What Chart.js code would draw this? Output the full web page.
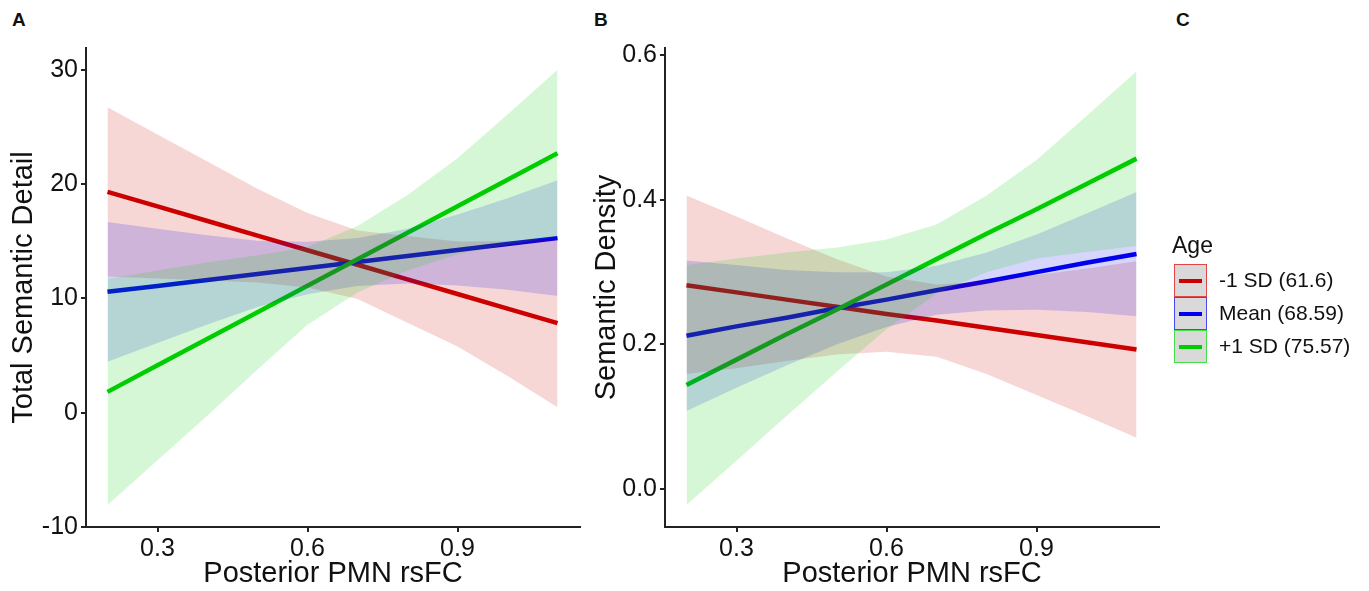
<!DOCTYPE html>
<html>
<head>
<meta charset="utf-8">
<script src="https://cdn.jsdelivr.net/npm/chart.js@4.4.1/dist/chart.umd.min.js"></script>
<style>
  html, body { margin: 0; padding: 0; background: #fff; }
  body { width: 1369px; height: 591px; position: relative; overflow: hidden;
         font-family: "Liberation Sans", Arial, sans-serif; color: #111; }
  canvas { position: absolute; top: 0; }
  .tag { position: absolute; top: 10px; font-weight: bold; font-size: 19px; line-height: 19px; }
  .legend { position: absolute; left: 1172px; top: 232px; }
  .legend .title { font-size: 23px; line-height: 26px; margin-bottom: 6px; }
  .key { position: relative; height: 33px; }
  .key .box { position: absolute; left: 2px; top: 0; width: 31px; height: 31px; background: #d9d9d9; border: 1px solid; }
  .key .stroke { position: absolute; left: 4px; right: 4px; top: 14px; height: 4px; }
  .key .lab { position: absolute; left: 47px; top: 4px; font-size: 21px; line-height: 24px; white-space: nowrap; }
</style>
</head>
<body>
<div class="tag" style="left:12px">A</div>
<div class="tag" style="left:594px">B</div>
<div class="tag" style="left:1176px">C</div>
<canvas id="chartA" width="600" height="591" style="left:0px"></canvas>
<canvas id="chartB" width="600" height="591" style="left:590px"></canvas>
<div class="legend" id="legend"></div>

<script>
// x positions where the fitted lines and their bands were read
const xGrid = [0.2, 0.3, 0.4, 0.5, 0.6, 0.7, 0.8, 0.9, 1.0, 1.1];
const xTicks = [0.3, 0.6, 0.9];

const groups = ['-1 SD (61.6)', 'Mean (68.59)', '+1 SD (75.57)'];
const lineColors = ['#cd0000', '#0000ee', '#00cd00'];
const bandColors = ['rgba(205,0,0,0.16)', 'rgba(0,0,238,0.16)', 'rgba(0,205,0,0.16)'];
const keyBorders = ['#e04848', '#4848f0', '#48dc48'];

// Panel A - Total Semantic Detail
const aTicks = [-10, 0, 10, 20, 30];
const aRedFit   = [19.32, 18.04, 16.77, 15.49, 14.21, 12.94, 11.66, 10.38, 9.10, 7.83];
const aRedLow   = [11.92, 11.74, 11.57, 11.39, 10.96, 9.94, 7.86, 5.78, 3.20, 0.48];
const aRedHigh  = [26.72, 24.34, 21.97, 19.59, 17.46, 15.94, 15.46, 14.98, 15.00, 15.18];
const aBlueFit  = [10.57, 11.09, 11.61, 12.14, 12.66, 13.18, 13.70, 14.23, 14.75, 15.27];
const aBlueLow  = [4.45, 6.09, 7.71, 9.24, 10.36, 11.08, 11.30, 11.13, 10.75, 10.20];
const aBlueHigh = [16.69, 16.09, 15.51, 15.04, 14.96, 15.28, 16.10, 17.33, 18.75, 20.34];
const aGreenFit  = [1.82, 4.14, 6.46, 8.78, 11.10, 13.42, 15.74, 18.06, 20.38, 22.70];
const aGreenLow  = [-8.08, -4.16, -0.24, 3.78, 7.70, 10.52, 12.44, 13.86, 14.68, 15.40];
const aGreenHigh = [11.72, 12.44, 13.16, 13.78, 14.50, 16.32, 19.04, 22.26, 26.08, 30.00];

// Panel B - Semantic Density
const bTicks = [0.0, 0.2, 0.4, 0.6];
const bRedFit   = [0.282, 0.272, 0.262, 0.252, 0.242, 0.233, 0.223, 0.213, 0.203, 0.193];
const bRedLow   = [0.159, 0.167, 0.177, 0.186, 0.190, 0.183, 0.159, 0.130, 0.101, 0.071];
const bRedHigh  = [0.406, 0.377, 0.347, 0.318, 0.294, 0.283, 0.287, 0.296, 0.305, 0.315];
const bBlueFit  = [0.212, 0.225, 0.237, 0.250, 0.262, 0.275, 0.287, 0.300, 0.313, 0.325];
const bBlueLow  = [0.108, 0.140, 0.171, 0.200, 0.224, 0.241, 0.247, 0.248, 0.245, 0.239];
const bBlueHigh = [0.316, 0.310, 0.303, 0.300, 0.300, 0.309, 0.327, 0.352, 0.381, 0.411];
const bGreenFit  = [0.144, 0.179, 0.214, 0.248, 0.283, 0.318, 0.353, 0.387, 0.422, 0.457];
const bGreenLow  = [-0.022, 0.039, 0.101, 0.162, 0.221, 0.270, 0.300, 0.319, 0.328, 0.336];
const bGreenHigh = [0.310, 0.319, 0.327, 0.334, 0.345, 0.366, 0.406, 0.455, 0.516, 0.578];

const FONT = '"Liberation Sans", Arial, sans-serif';
const INK = '#111';

function pts(ys) {
  return xGrid.map((x, i) => ({ x: x, y: ys[i] }));
}

function buildDatasets(fits, lows, highs) {
  const ds = [];
  // ribbons are drawn over the lines, as in the original
  for (let g = 0; g < 3; g++) {
    ds.push({
      label: groups[g] + ' hi', data: pts(highs[g]), fill: '+1',
      backgroundColor: bandColors[g], borderColor: 'rgba(0,0,0,0)', borderWidth: 0,
      pointRadius: 0, order: 3 - g
    });
    ds.push({
      label: groups[g] + ' lo', data: pts(lows[g]), fill: false,
      borderColor: 'rgba(0,0,0,0)', borderWidth: 0, pointRadius: 0, order: 3 - g
    });
  }
  for (let g = 0; g < 3; g++) {
    ds.push({
      label: groups[g], data: pts(fits[g]), fill: false,
      borderColor: lineColors[g], borderWidth: 4.5, pointRadius: 0,
      borderCapStyle: 'butt', order: 6 - g
    });
  }
  return ds;
}

function makePanel(id, fits, lows, highs, cfg) {
  const ctx = document.getElementById(id).getContext('2d');
  return new Chart(ctx, {
    type: 'line',
    data: { datasets: buildDatasets(fits, lows, highs) },
    options: {
      responsive: false,
      animation: false,
      devicePixelRatio: 1,
      layout: { padding: { left: 0, right: cfg.padRight, top: 48, bottom: 0 } },
      plugins: { legend: { display: false }, tooltip: { enabled: false } },
      scales: {
        x: {
          type: 'linear', min: 0.157, max: 1.145,
          afterBuildTicks: s => { s.ticks = xTicks.map(v => ({ value: v })); },
          afterFit: s => { s.height = 64; },
          ticks: { callback: v => v.toFixed(1), color: INK, padding: 2,
                   font: { family: FONT, size: 25 }, maxRotation: 0, autoSkip: false },
          grid: { drawOnChartArea: false, drawTicks: true, tickLength: 5, color: '#222', lineWidth: 2 },
          border: { display: true, color: '#222', width: 2 },
          title: { display: true, text: 'Posterior PMN rsFC', color: INK,
                   font: { family: FONT, size: 29 }, padding: { top: 0, bottom: 0 } }
        },
        y: {
          type: 'linear', min: cfg.yMin, max: cfg.yMax,
          afterBuildTicks: s => { s.ticks = cfg.yTicks.map(v => ({ value: v })); },
          afterFit: s => { s.width = cfg.yWidth; },
          ticks: { callback: cfg.fmt, color: INK, padding: 3,
                   font: { family: FONT, size: 25 }, autoSkip: false },
          grid: { drawOnChartArea: false, drawTicks: true, tickLength: 5, color: '#222', lineWidth: 2 },
          border: { display: true, color: '#222', width: 2 },
          title: { display: true, text: cfg.yTitle, color: INK,
                   font: { family: FONT, size: 29 }, padding: { top: cfg.titlePad, bottom: 0 } }
        }
      }
    }
  });
}

makePanel('chartA',
  [aRedFit, aBlueFit, aGreenFit],
  [aRedLow, aBlueLow, aGreenLow],
  [aRedHigh, aBlueHigh, aGreenHigh],
  { yMin: -10, yMax: 31.9, yTicks: aTicks, yTitle: 'Total Semantic Detail',
    yWidth: 86, titlePad: 7, padRight: 20, fmt: v => String(v) });

makePanel('chartB',
  [bRedFit, bBlueFit, bGreenFit],
  [bRedLow, bBlueLow, bGreenLow],
  [bRedHigh, bBlueHigh, bGreenHigh],
  { yMin: -0.0525, yMax: 0.61, yTicks: bTicks, yTitle: 'Semantic Density',
    yWidth: 75, titlePad: 0, padRight: 31, fmt: v => v.toFixed(1) });

// legend (panel C)
const legend = document.getElementById('legend');
let html = '<div class="title">Age</div>';
groups.forEach((g, i) => {
  html += '<div class="key"><div class="box" style="border-color:' + keyBorders[i] + '">' +
          '<div class="stroke" style="background:' + lineColors[i] + '"></div></div>' +
          '<div class="lab">' + g + '</div></div>';
});
legend.innerHTML = html;
</script>
</body>
</html>
